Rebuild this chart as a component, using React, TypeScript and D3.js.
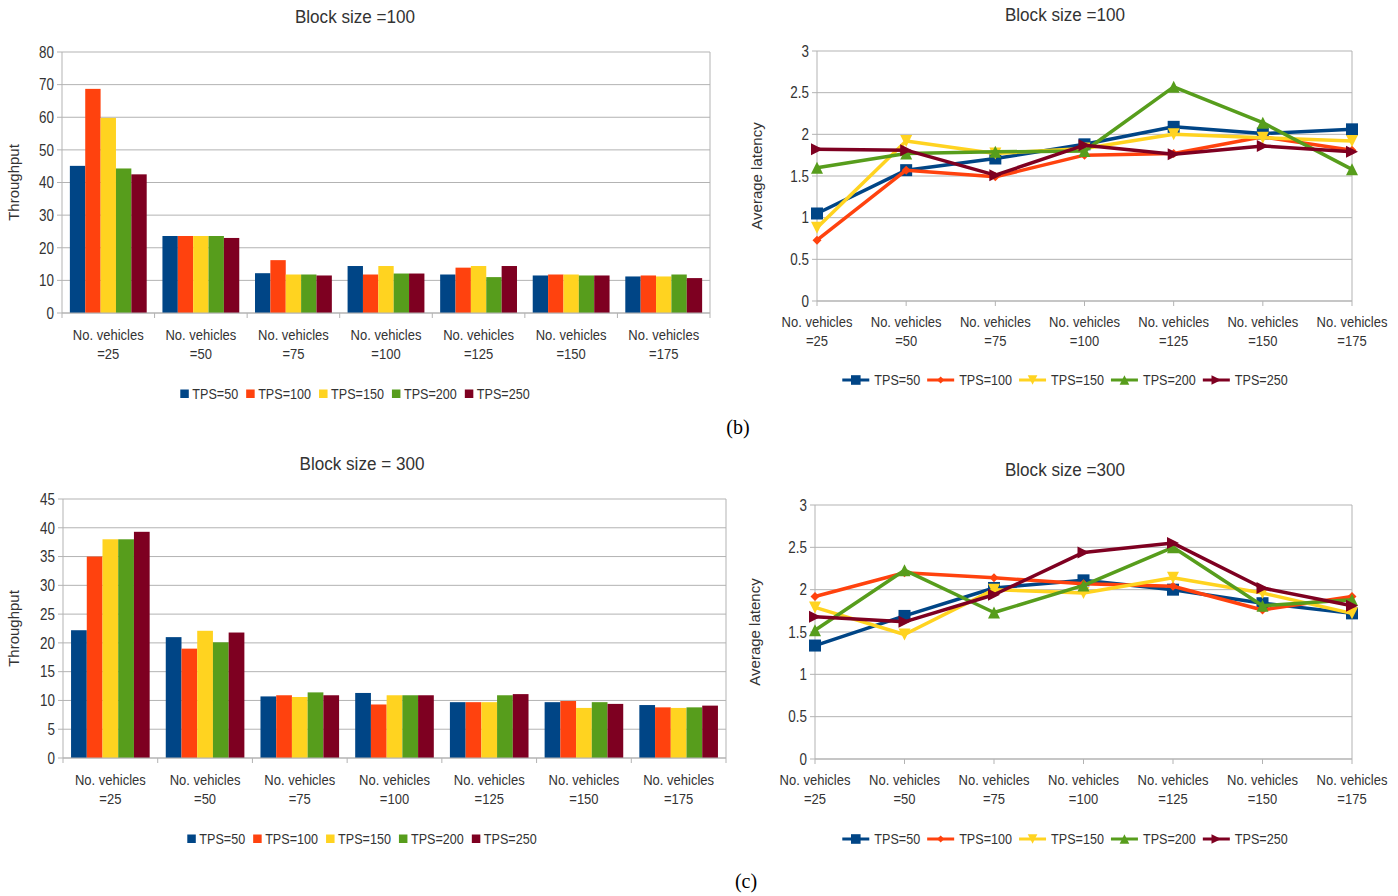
import React from 'react';
import * as d3 from 'd3';

const categories = ['=25', '=50', '=75', '=100', '=125', '=150', '=175'];
const seriesNames = ['TPS=50', 'TPS=100', 'TPS=150', 'TPS=200', 'TPS=250'];
const colors = ['#004586', '#ff420e', '#ffd320', '#579d1c', '#7e0021'];

// Block size = 100, throughput
const thr100_tps50 = [45.1, 23.6, 12.2, 14.4, 11.8, 11.5, 11.2];
const thr100_tps100 = [68.7, 23.6, 16.2, 11.8, 13.9, 11.8, 11.5];
const thr100_tps150 = [59.8, 23.6, 11.8, 14.4, 14.4, 11.8, 11.2];
const thr100_tps200 = [44.3, 23.6, 11.8, 12.1, 11.0, 11.5, 11.8];
const thr100_tps250 = [42.5, 23.0, 11.5, 12.1, 14.4, 11.5, 10.7];

// Block size = 100, latency
const lat100_tps50 = [1.05, 1.57, 1.71, 1.88, 2.09, 2.01, 2.06];
const lat100_tps100 = [0.73, 1.57, 1.49, 1.75, 1.77, 1.97, 1.81];
const lat100_tps150 = [0.88, 1.92, 1.77, 1.83, 2.0, 1.96, 1.92];
const lat100_tps200 = [1.6, 1.77, 1.79, 1.8, 2.57, 2.14, 1.58];
const lat100_tps250 = [1.82, 1.81, 1.51, 1.87, 1.76, 1.86, 1.79];

// Block size = 300, throughput
const thr300_tps50 = [22.2, 21.0, 10.7, 11.3, 9.7, 9.7, 9.2];
const thr300_tps100 = [35.0, 19.0, 10.9, 9.3, 9.7, 9.9, 8.8];
const thr300_tps150 = [38.0, 22.1, 10.6, 10.9, 9.7, 8.7, 8.7];
const thr300_tps200 = [38.0, 20.1, 11.4, 10.9, 10.9, 9.7, 8.8];
const thr300_tps250 = [39.3, 21.8, 10.9, 10.9, 11.1, 9.4, 9.1];

// Block size = 300, latency
const lat300_tps50 = [1.34, 1.69, 2.02, 2.11, 2.0, 1.84, 1.72];
const lat300_tps100 = [1.92, 2.2, 2.14, 2.07, 2.04, 1.76, 1.92];
const lat300_tps150 = [1.79, 1.47, 2.0, 1.96, 2.14, 1.96, 1.72];
const lat300_tps200 = [1.52, 2.23, 1.73, 2.05, 2.5, 1.81, 1.88];
const lat300_tps250 = [1.68, 1.62, 1.94, 2.44, 2.55, 2.02, 1.81];

const thrTicks100 = [0, 10, 20, 30, 40, 50, 60, 70, 80];
const thrTicks300 = [0, 5, 10, 15, 20, 25, 30, 35, 40, 45];
const latTicks = [0, 0.5, 1, 1.5, 2, 2.5, 3];

const SANS = "'Liberation Sans', Arial, sans-serif";
const GRID = '#b3b3b3';
const TEXT = '#333333';
const SQUEEZE = 0.84;

let ctx: CanvasRenderingContext2D | null = null;
function measure(text: string, size: number) {
  if (!ctx) ctx = document.createElement('canvas').getContext('2d');
  if (!ctx) return text.length * size * 0.5;
  ctx.font = `${size}px ${SANS}`;
  return ctx.measureText(text).width;
}

function NText({ x, y, size = 16, anchor = 'start', squeeze = SQUEEZE, children, dy }: any) {
  return (
    <text transform={`translate(${x},${y}) scale(${squeeze},1)`} dy={dy} textAnchor={anchor}
      fontFamily={SANS} fontSize={size} fill={TEXT}>
      {children}
    </text>
  );
}

type Box = { left: number; right: number; top: number; bottom: number };

function YAxis({ box, y, ticks, title, titleX }: any) {
  const cy = (box.top + box.bottom) / 2;
  return (
    <g>
      {ticks.map((t: number) => (
        <g key={t}>
          <line x1={box.left - 5} x2={box.right} y1={y(t)} y2={y(t)} stroke={GRID} strokeWidth={1} />
          <NText x={box.left - 8} y={y(t)} dy="0.36em" anchor="end" size={16}>{String(t)}</NText>
        </g>
      ))}
      <line x1={box.left} x2={box.left} y1={box.top} y2={box.bottom} stroke={GRID} />
      <line x1={box.right} x2={box.right} y1={box.top} y2={box.bottom} stroke={GRID} />
      <text transform={`translate(${titleX},${cy}) rotate(-90)`} textAnchor="middle" fontFamily={SANS} fontSize={15} fill={TEXT}>
        {title}
      </text>
    </g>
  );
}

function CatLabels({ xs, y }: { xs: number[]; y: number }) {
  return (
    <g>
      {xs.map((x, i) => (
        <g key={i}>
          <NText x={x} y={y} anchor="middle" size={15.5}>No. vehicles</NText>
          <NText x={x} y={y + 19} anchor="middle" size={15.5}>{categories[i]}</NText>
        </g>
      ))}
    </g>
  );
}

function legendPositions(cx: number, pre: number, size: number, gap: number) {
  const items = seriesNames.map((s) => pre + measure(s, size) * SQUEEZE + gap);
  const total = d3.sum(items) - gap;
  let lx = cx - total / 2;
  return items.map((w) => {
    const p = lx;
    lx += w;
    return p;
  });
}

function BarChart({ box, yMax, ticks, data, title, titleY, labelY, legendY, cx }: any) {
  const b: Box = box;
  const y = d3.scaleLinear().domain([0, yMax]).range([b.bottom, b.top]);
  const x0 = d3.scaleBand<string>().domain(categories).range([b.left, b.right]).padding(0);
  const bw = x0.bandwidth();
  const inset = bw * 0.085;
  const x1 = d3.scaleBand<string>().domain(seriesNames).range([inset, bw - inset]).padding(0);
  const pos = legendPositions(cx, 12, 15, 8);
  return (
    <g>
      <NText x={cx} y={titleY} anchor="middle" size={19} squeeze={0.9}>{title}</NText>
      <YAxis box={b} y={y} ticks={ticks} title="Throughput" titleX={19} />
      {categories.map((c, ci) => (
        <g key={c}>
          {data.map((arr: number[], si: number) => (
            <rect key={si} x={(x0(c) as number) + (x1(seriesNames[si]) as number)} y={y(arr[ci])}
              width={x1.bandwidth()} height={b.bottom - y(arr[ci])} fill={colors[si]} />
          ))}
        </g>
      ))}
      {d3.range(categories.length + 1).map((i) => (
        <line key={i} x1={b.left + i * bw} x2={b.left + i * bw} y1={b.bottom} y2={b.bottom + 5} stroke={GRID} />
      ))}
      <line x1={b.left} x2={b.right} y1={b.bottom} y2={b.bottom} stroke={GRID} />
      <CatLabels xs={categories.map((c) => (x0(c) as number) + bw / 2)} y={labelY} />
      {seriesNames.map((s, i) => (
        <g key={s}>
          <rect x={pos[i]} y={legendY - 4.5} width={8.5} height={8.5} fill={colors[i]} />
          <NText x={pos[i] + 12} y={legendY} dy="0.36em" size={15}>{s}</NText>
        </g>
      ))}
    </g>
  );
}

function Marker({ kind, x, y, color, s = 1 }: any) {
  const r = 6 * s;
  if (kind === 0) return <rect x={x - r} y={y - r} width={2 * r} height={2 * r} fill={color} />;
  if (kind === 1) {
    const q = 4.5 * s;
    return <path d={`M${x},${y - q}L${x + q},${y}L${x},${y + q}L${x - q},${y}Z`} fill={color} />;
  }
  if (kind === 2) return <path d={`M${x - r},${y - r}L${x + r},${y - r}L${x},${y + r}Z`} fill={color} />;
  if (kind === 3) return <path d={`M${x - r},${y + r}L${x + r},${y + r}L${x},${y - r}Z`} fill={color} />;
  return <path d={`M${x - r},${y - r}L${x + r},${y}L${x - r},${y + r}Z`} fill={color} />;
}

function LineChart({ box, data, title, titleY, labelY, legendY, cx }: any) {
  const b: Box = box;
  const y = d3.scaleLinear().domain([0, 3]).range([b.bottom, b.top]);
  const x = d3.scalePoint<string>().domain(categories).range([b.left, b.right]);
  const line = d3.line<number>().x((_, i) => x(categories[i]) as number).y((d) => y(d));
  const pos = legendPositions(cx, 32, 15, 7);
  return (
    <g>
      <NText x={cx} y={titleY} anchor="middle" size={19} squeeze={0.9}>{title}</NText>
      <YAxis box={b} y={y} ticks={latTicks} title="Average latency" titleX={b.left - 55} />
      {categories.map((c) => (
        <line key={c} x1={x(c)} x2={x(c)} y1={b.bottom} y2={b.bottom + 5} stroke={GRID} />
      ))}
      <line x1={b.left} x2={b.right} y1={b.bottom} y2={b.bottom} stroke={GRID} />
      {data.map((arr: number[], si: number) => (
        <g key={si}>
          <path d={line(arr) as string} fill="none" stroke={colors[si]} strokeWidth={3.5} strokeLinejoin="round" />
          {arr.map((v, i) => (
            <Marker key={i} kind={si} x={x(categories[i])} y={y(v)} color={colors[si]} />
          ))}
        </g>
      ))}
      <CatLabels xs={categories.map((c) => x(c) as number)} y={labelY} />
      {seriesNames.map((s, i) => (
        <g key={s}>
          <line x1={pos[i]} x2={pos[i] + 27} y1={legendY} y2={legendY} stroke={colors[i]} strokeWidth={3} />
          <Marker kind={i} x={pos[i] + 13.5} y={legendY} color={colors[i]} s={0.8} />
          <NText x={pos[i] + 32} y={legendY} dy="0.36em" size={15}>{s}</NText>
        </g>
      ))}
    </g>
  );
}

export default function App() {
  return (
    <svg width={1398} height={896} style={{ position: 'absolute', left: 0, top: 0, background: '#fff' }}>
      <rect width={1398} height={896} fill="#fff" />
      <BarChart
        box={{ left: 62, right: 710, top: 52, bottom: 313 }}
        yMax={80}
        ticks={thrTicks100}
        data={[thr100_tps50, thr100_tps100, thr100_tps150, thr100_tps200, thr100_tps250]}
        title="Block size =100"
        titleY={23}
        labelY={340}
        legendY={394}
        cx={355}
      />
      <LineChart
        box={{ left: 817, right: 1352, top: 51, bottom: 301 }}
        data={[lat100_tps50, lat100_tps100, lat100_tps150, lat100_tps200, lat100_tps250]}
        title="Block size =100"
        titleY={21}
        labelY={327}
        legendY={380}
        cx={1065}
      />
      <text x={738} y={434} textAnchor="middle" fontFamily="'Liberation Serif', 'Times New Roman', serif" fontSize={20} fill="#000">(b)</text>
      <BarChart
        box={{ left: 63, right: 726, top: 499, bottom: 758 }}
        yMax={45}
        ticks={thrTicks300}
        data={[thr300_tps50, thr300_tps100, thr300_tps150, thr300_tps200, thr300_tps250]}
        title="Block size = 300"
        titleY={470}
        labelY={785}
        legendY={839}
        cx={362}
      />
      <LineChart
        box={{ left: 815, right: 1352, top: 505, bottom: 759 }}
        data={[lat300_tps50, lat300_tps100, lat300_tps150, lat300_tps200, lat300_tps250]}
        title="Block size =300"
        titleY={476}
        labelY={785}
        legendY={839}
        cx={1065}
      />
      <text x={746} y={888} textAnchor="middle" fontFamily="'Liberation Serif', 'Times New Roman', serif" fontSize={20} fill="#000">(c)</text>
    </svg>
  );
}
